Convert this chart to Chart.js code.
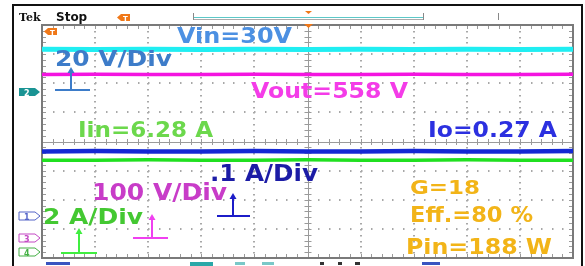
<!DOCTYPE html>
<html>
<head>
<meta charset="utf-8">
<script src="https://cdn.jsdelivr.net/npm/chart.js@4.4.0/dist/chart.umd.min.js"></script>
<style>
html,body{margin:0;padding:0;background:#fff;}
#c{display:block;}
</style>
</head>
<body>
<canvas id="c" width="585" height="266"></canvas>
<script>
// horizontal divisions (time axis), 10 divisions
const xDivs = [0,1,2,3,4,5,6,7,8,9,10];
// trace levels in divisions from the centre line
const ch2Vin  = [3.17,3.16,3.17,3.16,3.17,3.16,3.17,3.16,3.17,3.16,3.17];
const ch3Vout = [2.30,2.31,2.30,2.30,2.31,2.30,2.30,2.31,2.30,2.30,2.31];
const ch1Io   = [-0.34,-0.33,-0.34,-0.34,-0.33,-0.34,-0.34,-0.33,-0.34,-0.34,-0.33];
const ch4Iin  = [-0.64,-0.64,-0.63,-0.64,-0.64,-0.63,-0.64,-0.64,-0.63,-0.64,-0.64];
const seriesNames = ['Vin','Vout','Io','Iin'];

function pts(vals){ return xDivs.map((x,i)=>({x:x,y:vals[i]})); }

const labels = [
  {t:'Vin=30V',    l:177,r:292,top:27, base:43, c:'#4c90e2'},
  {t:'20 V/Div',   l:55, r:172,top:50, base:66, c:'#3d7cc9'},
  {t:'Vout=558 V', l:251,r:408,top:82, base:98, c:'#f43ce8'},
  {t:'Iin=6.28 A', l:78, r:213,top:121,base:137,c:'#6cd84c'},
  {t:'Io=0.27 A',  l:428,r:557,top:121,base:137,c:'#2c30e0'},
  {t:'.1 A/Div',   l:210,r:318,top:164,base:181,c:'#1c1ca6'},
  {t:'100 V/Div',  l:92, r:227,top:183,base:200,c:'#c83cc8'},
  {t:'2 A/Div',    l:43, r:143,top:208,base:224,c:'#44c832'},
  {t:'G=18',       l:410,r:480,top:180,base:194,c:'#f2b418'},
  {t:'Eff.=80 %',  l:410,r:533,top:206,base:222,c:'#f2b418'},
  {t:'Pin=188 W',  l:406,r:552,top:238,base:254,c:'#f2b418'}
];

const arrows = [
  {x:71, y1:67, y2:90, h1:55, h2:90, c:'#3d7cc9'},
  {x:233,y1:193,y2:216,h1:217,h2:250,c:'#1c1cc8'},
  {x:152,y1:214,y2:238,h1:133,h2:168,c:'#f040f0'},
  {x:79, y1:228,y2:253,h1:61, h2:97, c:'#40ee40'}
];

function fitText(ctx, L){
  const capH = L.base - L.top;
  const size = capH/0.73;
  ctx.font = 'bold ' + size + 'px "DejaVu Sans"';
  const w = ctx.measureText(L.t).width;
  ctx.save();
  ctx.translate(L.l, L.base);
  ctx.scale((L.r-L.l)/w, 1);
  ctx.fillStyle = L.c;
  ctx.textBaseline = 'alphabetic';
  ctx.fillText(L.t, 0, 0);
  ctx.restore();
}

const scopePlugin = {
  id:'scope',
  beforeDraw(chart){
    const ctx = chart.ctx;
    ctx.save();
    ctx.fillStyle='#fff';
    ctx.fillRect(0,0,chart.width,chart.height);
    const xs = chart.scales.x, ys = chart.scales.y;
    const L = xs.getPixelForValue(0), R = xs.getPixelForValue(10);
    const T = ys.getPixelForValue(4), B = ys.getPixelForValue(-4);
    const dx = (R-L)/10, dy = (B-T)/8;
    // outer frame
    ctx.fillStyle='#111';
    ctx.fillRect(12,4,571,2);
    ctx.fillRect(12,4,2,262);
    ctx.fillRect(581,4,2,262);
    // dotted graticule
    ctx.fillStyle='#a8a8a8';
    for(let i=1;i<10;i++){
      if(i===5) continue;
      const x = L + i*dx;
      for(let k=1;k<40;k++){ ctx.fillRect(Math.round(x)-1, Math.round(T + k*dy/5), 2, 1.5); }
    }
    for(let j=1;j<8;j++){
      if(j===4) continue;
      const y = T + j*dy;
      for(let k=1;k<50;k++){ ctx.fillRect(Math.round(L + k*dx/5), Math.round(y)-1, 1.5, 2); }
    }
    // centre cross
    const cx = L + 5*dx, cy = T + 4*dy;
    ctx.strokeStyle='#9a9a9a';
    ctx.lineWidth=1;
    ctx.beginPath();
    ctx.moveTo(L, Math.round(cy)+0.5); ctx.lineTo(R, Math.round(cy)+0.5);
    ctx.moveTo(Math.round(cx)+0.5, T); ctx.lineTo(Math.round(cx)+0.5, B);
    for(let k=1;k<50;k++){
      const x = Math.round(L + k*dx/5)+0.5;
      ctx.moveTo(x, cy-2.5); ctx.lineTo(x, cy+3.5);
      ctx.moveTo(x, T); ctx.lineTo(x, T+4);
      ctx.moveTo(x, B); ctx.lineTo(x, B-4);
    }
    for(let k=1;k<40;k++){
      const y = Math.round(T + k*dy/5)+0.5;
      ctx.moveTo(cx-3, y); ctx.lineTo(cx+4, y);
      ctx.moveTo(L, y); ctx.lineTo(L+4, y);
      ctx.moveTo(R, y); ctx.lineTo(R-4, y);
    }
    ctx.stroke();
    // plot border
    ctx.strokeStyle='#7a7a7a';
    ctx.lineWidth=2;
    ctx.strokeRect(L, T, R-L, B-T);
    ctx.restore();
  },
  afterDraw(chart){
    const ctx = chart.ctx;
    ctx.save();
    // header
    ctx.fillStyle='#111';
    ctx.font='bold 11px "DejaVu Serif"';
    ctx.textBaseline='alphabetic';
    ctx.fillText('Tek', 19, 21);
    ctx.font='bold 12px "DejaVu Sans"';
    ctx.fillText('Stop', 56, 21);
    // record bar
    ctx.strokeStyle='#888'; ctx.lineWidth=1;
    ctx.beginPath();
    ctx.moveTo(193.5,13); ctx.lineTo(193.5,20);
    ctx.moveTo(423.5,13); ctx.lineTo(423.5,20);
    ctx.moveTo(498.5,13); ctx.lineTo(498.5,20);
    ctx.stroke();
    ctx.strokeStyle='#5cc8c8';
    ctx.beginPath(); ctx.moveTo(194,17.5); ctx.lineTo(423,17.5); ctx.stroke();
    ctx.strokeStyle='#aaa';
    ctx.beginPath(); ctx.moveTo(194,19.5); ctx.lineTo(423,19.5); ctx.stroke();
    // orange trigger markers
    ctx.fillStyle='#f07818';
    ctx.beginPath(); ctx.moveTo(305,11); ctx.lineTo(312,11); ctx.lineTo(308.5,14); ctx.closePath(); ctx.fill();
    ctx.beginPath(); ctx.moveTo(304,24); ctx.lineTo(313,24); ctx.lineTo(308.5,28); ctx.closePath(); ctx.fill();
    function tMark(x,y){
      ctx.fillStyle='#f07818';
      ctx.beginPath();
      ctx.moveTo(x,y+3.5); ctx.lineTo(x+4,y); ctx.lineTo(x+13,y); ctx.lineTo(x+13,y+7); ctx.lineTo(x+4,y+7); ctx.closePath(); ctx.fill();
      ctx.fillStyle='#fff'; ctx.font='bold 7px "DejaVu Sans"';
      ctx.fillText('T', x+6, y+6.5);
    }
    tMark(117,14);
    tMark(44,28);
    // channel markers at left
    function chMark(y, txt, col, filled){
      ctx.beginPath();
      ctx.moveTo(19,y); ctx.lineTo(35,y); ctx.lineTo(40,y+4); ctx.lineTo(35,y+8); ctx.lineTo(19,y+8); ctx.closePath();
      if(filled){ ctx.fillStyle=col; ctx.fill(); ctx.fillStyle='#fff'; }
      else { ctx.strokeStyle=col; ctx.lineWidth=1; ctx.stroke(); ctx.fillStyle=col; }
      ctx.font='bold 8px "DejaVu Sans"';
      ctx.fillText(txt, 24, y+7.5);
    }
    chMark(88,'2','#1a9494',true);
    chMark(212,'1','#5464c8',false);
    chMark(234,'3','#c448c4',false);
    chMark(248,'4','#44b044',false);
    // bottom cut-off status fragments
    ctx.fillStyle='#3a54c0'; ctx.fillRect(46,262,24,3);
    ctx.fillStyle='#2aa8a8'; ctx.fillRect(190,262,23,4);
    ctx.fillStyle='#7ac8c8'; ctx.fillRect(235,262,10,3); ctx.fillRect(262,262,12,3);
    ctx.fillStyle='#333'; ctx.fillRect(320,262,4,3); ctx.fillRect(338,262,4,3); ctx.fillRect(355,262,5,3);
    ctx.fillStyle='#3a54c0'; ctx.fillRect(422,262,18,3);
    // arrows
    arrows.forEach(a=>{
      ctx.strokeStyle=a.c; ctx.fillStyle=a.c; ctx.lineWidth=2;
      ctx.beginPath();
      ctx.moveTo(a.x, a.y1+4); ctx.lineTo(a.x, a.y2);
      ctx.moveTo(a.h1, a.y2); ctx.lineTo(a.h2, a.y2);
      ctx.stroke();
      ctx.beginPath();
      ctx.moveTo(a.x, a.y1); ctx.lineTo(a.x-3.5, a.y1+6); ctx.lineTo(a.x+3.5, a.y1+6); ctx.closePath(); ctx.fill();
    });
    // annotation text
    labels.forEach(L=>fitText(ctx,L));
    ctx.restore();
  }
};

new Chart(document.getElementById('c'), {
  type:'line',
  data:{
    datasets:[
      {label:seriesNames[0], data:pts(ch2Vin),  borderColor:'#20eef2', borderWidth:5},
      {label:seriesNames[1], data:pts(ch3Vout), borderColor:'#f414e0', borderWidth:3.5},
      {label:seriesNames[2], data:pts(ch1Io),   borderColor:'#1428d4', borderWidth:4.5},
      {label:seriesNames[3], data:pts(ch4Iin),  borderColor:'#20e020', borderWidth:3.5}
    ]
  },
  options:{
    responsive:false,
    animation:false,
    devicePixelRatio:1,
    layout:{padding:{left:42,top:25,right:12,bottom:8}},
    elements:{point:{radius:0}, line:{tension:0, borderCapStyle:'butt'}},
    plugins:{legend:{display:false}, tooltip:{enabled:false}},
    scales:{
      x:{type:'linear', min:0, max:10, display:false},
      y:{type:'linear', min:-4, max:4, display:false}
    }
  },
  plugins:[scopePlugin]
});
</script>
</body>
</html>
